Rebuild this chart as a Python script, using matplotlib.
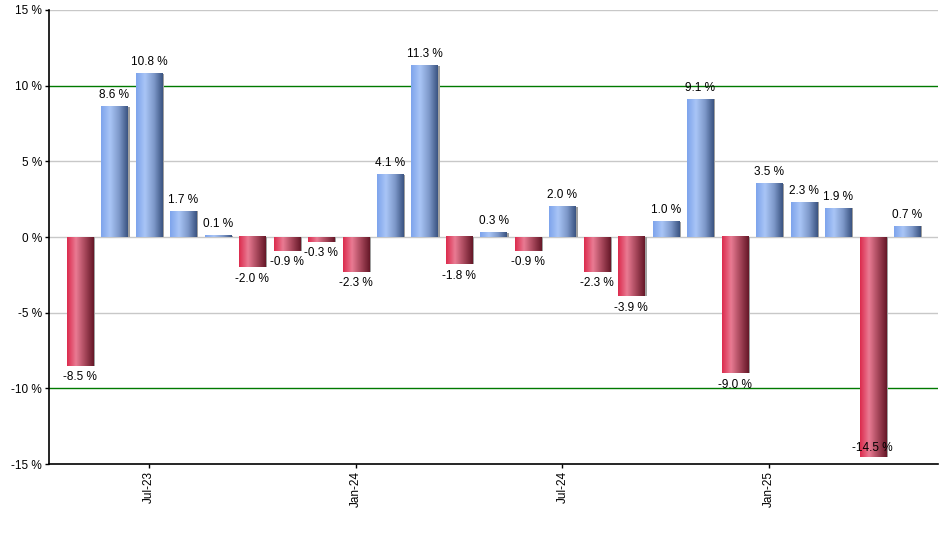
import numpy as np
import matplotlib.pyplot as plt
from matplotlib.colors import LinearSegmentedColormap

months = ['May-23', 'Jun-23', 'Jul-23', 'Aug-23', 'Sep-23', 'Oct-23', 'Nov-23', 'Dec-23',
          'Jan-24', 'Feb-24', 'Mar-24', 'Apr-24', 'May-24', 'Jun-24', 'Jul-24', 'Aug-24',
          'Sep-24', 'Oct-24', 'Nov-24', 'Dec-24', 'Jan-25', 'Feb-25', 'Mar-25', 'Apr-25', 'May-25']
returns = [-8.5, 8.6, 10.8, 1.7, 0.1, -2.0, -0.9, -0.3, -2.3, 4.1, 11.3, -1.8, 0.3,
           -0.9, 2.0, -2.3, -3.9, 1.0, 9.1, -9.0, 3.5, 2.3, 1.9, -14.5, 0.7]
tick_months = ['Jul-23', 'Jan-24', 'Jul-24', 'Jan-25']
yticks = [-15, -10, -5, 0, 5, 10, 15]

plt.rcParams['font.family'] = ['Liberation Sans', 'DejaVu Sans']

blue_cm = LinearSegmentedColormap.from_list('b', ['#7ea4ec', '#a9c5f6', '#7f9acb', '#3b5482'])
red_cm = LinearSegmentedColormap.from_list('r', ['#dc2c4e', '#e97b93', '#a8485c', '#661828'])

fig = plt.figure(figsize=(9.4, 5.5), dpi=100)
ax = fig.add_axes([0.052, 0.156, 0.946, 0.826])

width = 0.76
grad = np.linspace(0, 1, 64).reshape(1, -1)
x = np.arange(len(returns))

for xi, v in zip(x, returns):
    cm = blue_cm if v >= 0 else red_cm
    # shadow
    ax.bar(xi + 0.06, v, width=width, color='#a0a0a0', zorder=2)
    ax.imshow(grad, cmap=cm, aspect='auto', interpolation='bilinear',
              extent=[xi - width / 2, xi + width / 2, 0, v], zorder=3)
    lbl = f'{v:.1f} %'
    if v >= 0:
        ax.annotate(lbl, (xi, v), xytext=(0, 4), textcoords='offset points',
                    ha='center', va='bottom', fontsize=8.5, zorder=5)
    elif v < -13.5:
        # no room below, sits inside the bar end
        ax.annotate(lbl, (xi, v), xytext=(0, 2), textcoords='offset points',
                    ha='center', va='bottom', fontsize=8.5, zorder=5)
    else:
        ax.annotate(lbl, (xi, v), xytext=(0, -4), textcoords='offset points',
                    ha='center', va='top', fontsize=8.5, zorder=5)

for y in yticks:
    if abs(y) == 10:
        ax.axhline(y, color='#007a00', lw=1, zorder=1)
    elif y != -15:
        ax.axhline(y, color='#c8c8c8', lw=1, zorder=1)

ax.set_xlim(-0.9, 24.9)
ax.set_ylim(-15, 15)
ax.set_yticks(yticks)
ax.set_yticklabels([f'{y} %' for y in yticks], fontsize=8.5)
ax.set_xticks([months.index(m) for m in tick_months])
ax.set_xticklabels(tick_months, rotation=90, fontsize=8.5)
ax.tick_params(length=3, width=1, pad=2)
for s in ['top', 'right']:
    ax.spines[s].set_visible(False)
ax.spines['left'].set_linewidth(1.2)
ax.spines['bottom'].set_linewidth(1.2)

fig.savefig('out.png', dpi=100)
